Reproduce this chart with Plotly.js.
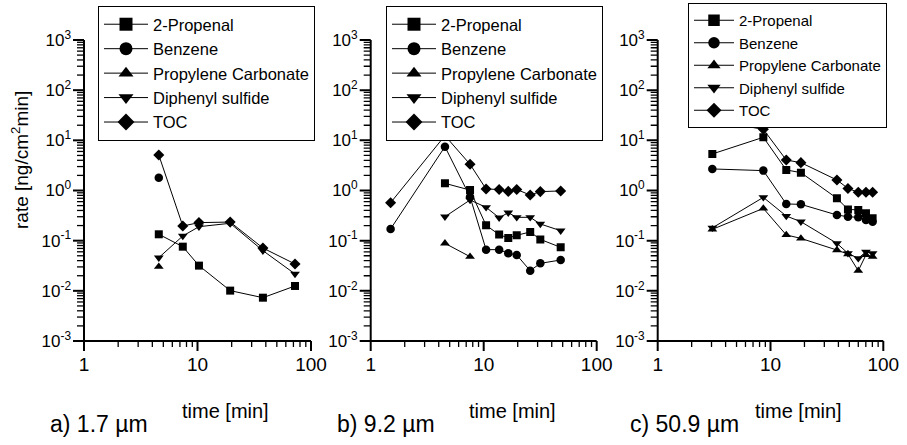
<!DOCTYPE html>
<html><head><meta charset="utf-8">
<script src="https://cdn.plot.ly/plotly-3.0.1.min.js"></script>
<style>html,body{margin:0;padding:0;background:#fff}#chart{width:907px;height:445px}</style>
</head><body><div id="chart"></div>
<script>
// ---- data ----
const seriesNames = ["2-Propenal", "Benzene", "Propylene Carbonate", "Diphenyl sulfide", "TOC"];

const tA = [4.56, 7.42, 10.3, 19.4, 37.7, 72.3];
const aPropenal = [0.134, 0.0759, 0.0318, 0.0101, 0.0073, 0.0125];
const aBenzene = [1.80, null, null, null, null, null];
const aPC = [0.0303, null, null, null, null, null];
const aDPS = [0.0458, 0.124, 0.19, 0.222, 0.0633, 0.0217];
const aTOC = [5.1, 0.196, 0.229, 0.235, 0.0714, 0.0343];

const tB = [1.50, 4.54, 7.57, 10.5, 13.7, 16.5, 19.6, 25.8, 31.7, 48.0];
const bPropenal = [null, 1.39, 1.02, 0.202, 0.132, 0.113, 0.128, 0.149, 0.106, 0.0736];
const bBenzene = [0.171, 7.48, 0.75, 0.0662, 0.0662, 0.056, 0.0518, 0.0252, 0.0353, 0.0412];
const bPC = [null, 0.0885, 0.048, null, null, null, null, null, null, null];
const bDPS = [null, 0.30, 0.647, 0.462, 0.287, 0.361, 0.292, 0.292, 0.215, 0.158];
const bTOC = [0.571, 12.4, 3.33, 1.07, 1.05, 0.96, 1.05, 0.81, 0.95, 0.98];

const tC = [3.05, 8.64, 13.8, 18.6, 38.8, 48.6, 60.0, 70.2, 80.4];
const cPropenal = [5.35, 11.5, 2.57, 2.27, 0.70, 0.42, 0.41, 0.35, 0.28];
const cBenzene = [2.69, 2.49, 0.539, 0.53, 0.325, 0.30, 0.292, 0.258, 0.239];
const cPC = [0.168, 0.44, 0.13, 0.111, 0.065, 0.054, 0.0252, 0.052, 0.048];
const cDPS = [0.18, 0.73, 0.31, 0.239, 0.0885, 0.056, 0.0445, 0.060, 0.056];
const cTOC = [24.7, 16.6, 4.05, 3.59, 1.62, 1.10, 0.92, 0.92, 0.92];

const yTickVals = [0.001, 0.01, 0.1, 1, 10, 100, 1000];
const yTickText = ["10<sup>-3</sup>", "10<sup>-2</sup>", "10<sup>-1</sup>", "10<sup>0</sup>", "10<sup>1</sup>", "10<sup>2</sup>", "10<sup>3</sup>"];
const xTickVals = [1, 10, 100];
const xTickText = ["1", "10", "100"];
const panelLabels = ["a) 1.7 µm", "b) 9.2 µm", "c) 50.9 µm"];
const xTitle = "time [min]";
const yTitle = "rate [ng/cm<sup>2</sup>min]";

// minor tick positions: 2..9 within each decade
function minorTicks(decades) {
  const out = [];
  decades.forEach(d => { for (let k = 2; k <= 9; k++) out.push(k * d); });
  return out;
}
const xMinor = minorTicks([1, 10]);
const yMinor = minorTicks([0.001, 0.01, 0.1, 1, 10, 100]);

// ---- geometry / styling ----
const W = 907, H = 445;
const FONT = "Liberation Sans, Arial, sans-serif";
const symbols = ["square", "circle", "triangle-up", "triangle-down", "diamond"];
const dataSizes = [8, 8.5, 8.5, 8.5, 8.5];
const X_MIN = 1, X_MAX = 100, Y_MIN = 0.001, Y_MAX = 1000;
const xPix = [[84, 311], [370.7, 596.7], [657.7, 883.3]];
const yPix = [40, 341];
const EXT = {l: 12, r: 3, t: 2, b: 10};   // room (px) for tick marks inside the plotting area
const PH = yPix[1] - yPix[0];
const pxY = PH / (Math.log10(Y_MAX) - Math.log10(Y_MIN));

const panels = [
  {t: tA, ys: [aPropenal, aBenzene, aPC, aDPS, aTOC], xa: "x", ya: "y", lg: "legend", lsize: 13},
  {t: tB, ys: [bPropenal, bBenzene, bPC, bDPS, bTOC], xa: "x2", ya: "y2", lg: "legend2", lsize: 13},
  {t: tC, ys: [cPropenal, cBenzene, cPC, cDPS, cTOC], xa: "x3", ya: "y3", lg: "legend3", lsize: 11.5}
];

const traces = [];
const layout = {
  width: W, height: H, margin: {l: 0, r: 0, t: 0, b: 0},
  font: {family: FONT, color: "#000"},
  paper_bgcolor: "#fff", plot_bgcolor: "rgba(0,0,0,0)"
};

panels.forEach((p, k) => {
  const d = xPix[k];
  const PW = d[1] - d[0];
  const pxX = PW / (Math.log10(X_MAX) - Math.log10(X_MIN));
  const xName = "xaxis" + (k ? k + 1 : ""), yName = "yaxis" + (k ? k + 1 : "");

  layout[xName] = {
    type: "log", anchor: p.ya,
    range: [Math.log10(X_MIN) - EXT.l / pxX, Math.log10(X_MAX) + EXT.r / pxX],
    domain: [(d[0] - EXT.l) / W, (d[1] + EXT.r) / W],
    showline: false, showgrid: false, zeroline: false, ticks: "",
    tickmode: "array", tickvals: xTickVals, ticktext: xTickText, ticklabelstandoff: 0,
    tickfont: {family: FONT, size: 19, color: "#000"}
  };
  layout[yName] = {
    type: "log", anchor: p.xa,
    range: [Math.log10(Y_MIN) - EXT.b / pxY, Math.log10(Y_MAX) + EXT.t / pxY],
    domain: [1 - (yPix[1] + EXT.b) / H, 1 - (yPix[0] - EXT.t) / H],
    showline: false, showgrid: false, zeroline: false, ticks: "",
    tickmode: "array", tickvals: yTickVals, ticktext: yTickText, ticklabelstandoff: 0,
    tickfont: {family: FONT, size: 17, color: "#000"}
  };

  // axis frame and tick marks, drawn as line traces on the panel's own scales
  const below = len => Y_MIN * Math.pow(10, -len / pxY);
  const left = len => X_MIN * Math.pow(10, -len / pxX);
  function tickTrace(xv, yv, xlen, ylen, width) {
    const xs = [], ys = [];
    xv.forEach(v => { xs.push(v, v, null); ys.push(Y_MIN, below(xlen), null); });
    yv.forEach(v => { xs.push(X_MIN, left(ylen), null); ys.push(v, v, null); });
    return {x: xs, y: ys, xaxis: p.xa, yaxis: p.ya, type: "scatter", mode: "lines",
      line: {color: "#000", width: width, simplify: false}, connectgaps: false, showlegend: false, hoverinfo: "skip"};
  }
  traces.push({x: [X_MIN, X_MIN, X_MAX], y: [Y_MAX, Y_MIN, Y_MIN], xaxis: p.xa, yaxis: p.ya, type: "scatter", mode: "lines",
    line: {color: "#000", width: 2, simplify: false}, showlegend: false, hoverinfo: "skip"});
  traces.push(tickTrace(xTickVals, yTickVals, 10, 11, 2));
  traces.push(tickTrace(xMinor, yMinor, 6, 7, 1.3));

  // data series
  p.ys.forEach((y, i) => {
    traces.push({
      x: p.t, y: y, xaxis: p.xa, yaxis: p.ya, type: "scatter", mode: "lines+markers",
      line: {color: "#000", width: 1}, marker: {symbol: symbols[i], size: dataSizes[i], color: "#000"},
      showlegend: false, connectgaps: false, hoverinfo: "skip"
    });
  });
  // legend proxies (no data)
  seriesNames.forEach((n, i) => {
    traces.push({
      x: [null], y: [null], xaxis: p.xa, yaxis: p.ya, type: "scatter", mode: "lines+markers", name: n,
      line: {color: "#000", width: 1}, marker: {symbol: symbols[i], size: p.lsize, color: "#000"},
      legend: p.lg, showlegend: true
    });
  });
});

function ann(text, x, y, size, angle) {
  return {text: text, x: x / W, y: 1 - y / H, xref: "paper", yref: "paper", xanchor: "center", yanchor: "middle",
    showarrow: false, textangle: angle || 0, font: {family: FONT, size: size, color: "#000"}};
}
const legendBase = {xanchor: "left", yanchor: "top", bordercolor: "#000", borderwidth: 1, bgcolor: "#fff", tracegroupgap: 0};

layout.legend = Object.assign({x: 98 / W, y: 1 - 6 / H, font: {family: FONT, size: 16.5, color: "#000"}, itemwidth: 44}, legendBase);
layout.legend2 = Object.assign({x: 386 / W, y: 1 - 6 / H, font: {family: FONT, size: 16.5, color: "#000"}, itemwidth: 44}, legendBase);
layout.legend3 = Object.assign({x: 688 / W, y: 1 - 3 / H, font: {family: FONT, size: 15, color: "#000"}, itemwidth: 40}, legendBase);
layout.annotations = [
  ann(yTitle, 20, 160, 19, -90),
  ann(xTitle, 225, 411, 20),
  ann(xTitle, 512, 411, 20),
  ann(xTitle, 798, 411, 20),
  ann(panelLabels[0], 98.5, 424, 23),
  ann(panelLabels[1], 386, 424, 23),
  ann(panelLabels[2], 684, 424, 23)
];

Plotly.newPlot("chart", traces, layout, {displayModeBar: false, staticPlot: true});
</script>
</body></html>
